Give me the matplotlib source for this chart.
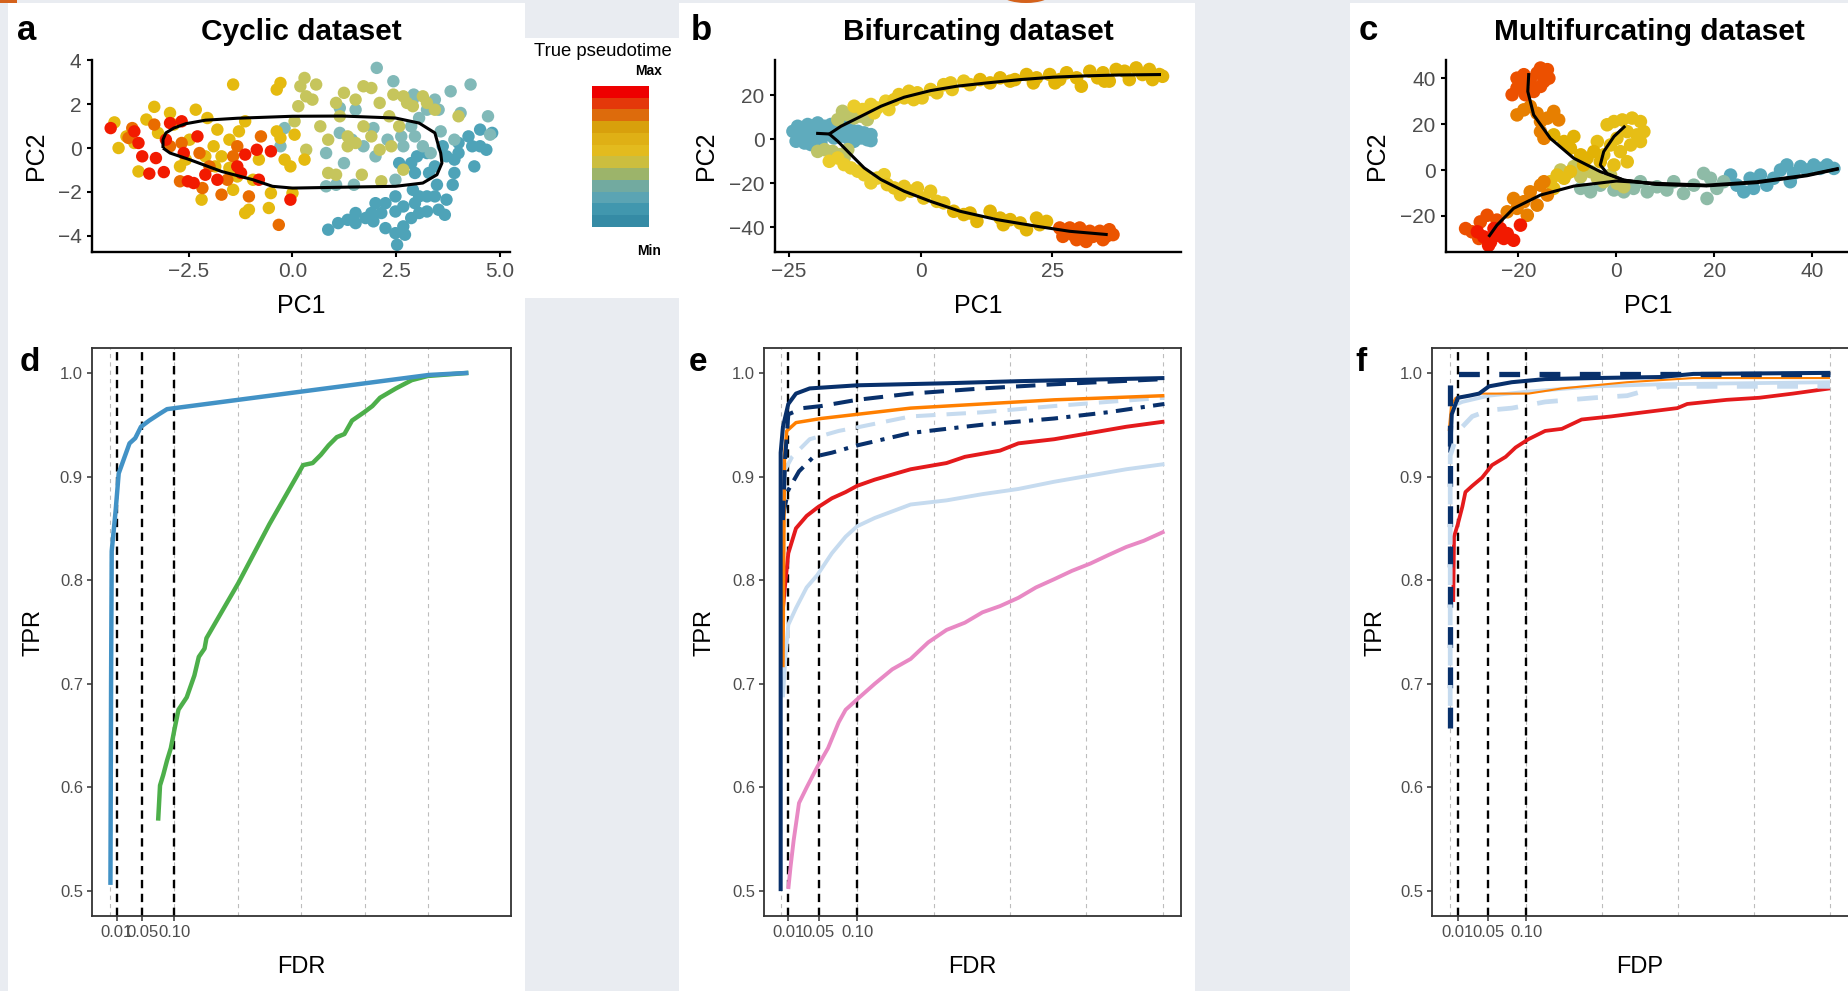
import numpy as np
import matplotlib
matplotlib.use('Agg')
import matplotlib.pyplot as plt
from matplotlib.colors import LinearSegmentedColormap, ListedColormap
from matplotlib.patches import Rectangle, Ellipse

plt.rcParams['font.family'] = ['Liberation Sans', 'DejaVu Sans']
plt.rcParams['lines.scale_dashes'] = False
W, H = 1849, 991

# ============================ DATA ============================
# pseudotime colour palette (points) and legend bands
ZISSOU = ["#3B9AB2", "#78B7C5", "#EBCC2A", "#E1AF00", "#F21A00"]
LEGEND_BANDS = ['#358BA5', '#4197AE', '#5BA4B3', '#72AAA0', '#9CB46A', '#CCBE3E',
                '#E3BB1E', '#DFB015', '#D8A00C', '#DD6B0C', '#E4380A', '#EE0000']

# ---- panel a: cyclic dataset (PC1, PC2) by pseudotime colour class ----
A_BLUE = [(3.0,-0.38),(3.24,-0.23),(3.43,-0.84),(3.62,0.08),(3.71,-0.38),(3.90,-0.53),(4.0,0.23),
          (3.90,-1.14),(3.86,-1.68),(3.71,-2.36),(3.67,-3.05),(3.43,-2.21),(3.24,-2.21),(3.05,-2.21),
          (2.90,-1.91),(2.95,-2.52),(3.05,-2.97),(2.86,-3.20),(2.67,-2.67),(2.48,-2.90),(2.24,-2.52),
          (2.14,-2.97),(1.90,-2.97),(1.76,-3.20),(1.52,-2.97),(1.33,-3.28),(1.10,-3.43),(0.86,-3.73),
          (1.52,-3.43),(1.95,-3.35),(2.24,-3.66),(2.48,-3.89),(2.52,-4.42),(2.71,-3.96),(2.67,-3.58),
          (3.24,-2.90),(3.52,-2.82),(4.24,0.53),(4.33,0.08),(4.52,0.08),(4.67,-0.08),(4.52,0.84),
          (4.38,-0.84),(4.0,-0.23),(3.48,-1.68),(3.29,-1.14),(2.95,-1.14),(2.86,-0.69),(2.57,-0.69),
          (2.0,-2.52),(2.48,-2.21),(4.81,0.69)]
A_TEAL = [(2.03,3.66),(2.43,3.05),(2.92,2.44),(2.90,2.21),(3.24,1.75),(3.43,2.21),(3.52,1.75),
          (3.05,1.37),(2.86,0.99),(2.62,0.53),(2.29,0.38),(2.0,-0.38),(1.71,0.08),(1.43,0.38),
          (1.14,0.69),(1.52,1.75),(1.14,1.83),(0.81,-0.23),(1.24,-0.69),(1.95,0.91),(3.14,0.08),
          (3.33,-0.23),(2.67,0.08),(2.95,0.53),(3.57,0.76),(3.90,0.38),(4.05,1.60),(4.29,2.90),
          (4.71,1.45),(4.76,0.61),(3.81,2.59),(-0.19,0.91),(-0.29,0.08),(0.81,-1.75),(1.05,-1.68),
          (1.48,-1.68),(2.48,-1.45)]
A_OLIVE = [(0.29,3.20),(0.19,2.82),(0.33,2.36),(0.57,2.90),(0.48,2.21),(0.14,1.91),(0.67,0.99),
           (0.86,0.38),(1.05,2.06),(1.24,2.52),(1.14,1.45),(1.33,0.53),(1.52,2.21),(1.71,2.82),
           (1.90,2.74),(2.10,2.06),(2.33,1.45),(2.43,2.44),(2.67,2.36),(2.76,2.06),(1.90,0.53),
           (2.10,-0.08),(2.38,0.08),(2.57,0.99),(2.90,1.91),(3.14,2.36),(3.24,2.06),(3.43,1.75),
           (4.0,1.45),(1.52,0.23),(0.86,-1.14),(1.05,-1.22),(1.67,-1.22),(2.14,-1.52),(2.67,-0.99),
           (0.05,1.22),(0.33,-0.08),(1.33,0.08),(1.71,0.99)]
A_YELLOW = [(-4.29,1.17),(-4.19,0.0),(-3.71,-1.07),(-3.33,1.88),(-4.0,0.53),(-3.52,1.30),(-3.24,0.69),
            (-2.86,1.07),(-2.48,0.38),(-2.33,1.75),(-2.19,-2.36),(-2.05,1.37),(-1.90,0.08),(-1.81,0.84),
            (-1.52,0.38),(-1.43,2.90),(-1.43,-1.91),(-1.29,0.76),(-1.14,-2.97),(-1.05,-2.82),(-0.95,-1.45),
            (-0.81,-0.53),(-0.57,-2.74),(-0.52,-2.06),(-0.38,2.67),(-0.29,2.97),(-0.38,0.76),(-0.19,-0.53),
            (-0.05,-0.84),(0.0,-2.06),(-0.29,0.46),(0.05,0.61),(0.29,-0.53),(-1.14,1.22),(-1.71,-0.38),
            (-2.57,-0.53),(-2.10,-0.38),(-1.86,-0.84),(-1.52,-0.91),(-2.95,1.60),(-3.81,0.23),(-2.71,-0.84),
            (-1.33,-1.30)]
A_ORANGE = [(-3.86,0.91),(-3.95,0.46),(-3.33,1.07),(-2.95,0.08),(-2.71,-1.52),(-2.67,0.23),(-2.24,-0.23),
            (-2.17,-1.83),(-1.71,-2.13),(-1.43,-0.38),(-1.05,-2.21),(-0.76,0.53),(-2.0,-0.84),(-1.33,0.08),
            (-1.57,-1.45),(-0.33,-3.51)]
A_RED = [(-4.38,0.91),(-3.81,0.76),(-3.71,0.23),(-3.62,-0.38),(-3.45,-1.17),(-3.10,-1.10),(-3.29,-0.46),
         (-3.05,0.38),(-2.95,1.14),(-2.67,1.22),(-2.62,-0.23),(-2.52,-1.52),(-2.29,0.53),(-1.81,-1.45),
         (-1.33,-0.84),(-1.14,-0.30),(-0.86,-0.08),(-1.24,-1.14),(-0.81,-1.45),(-0.52,-0.15),(-0.05,-2.36),
         (-2.38,-1.60),(-2.10,-1.22)]
A_GROUP_TIME = [0.08, 0.27, 0.42, 0.66, 0.86, 1.0]
A_LOOP = [(-3.12,0.0),(-3.12,0.38),(-3.05,0.69),(-2.86,0.91),(-2.57,1.11),(-2.1,1.27),(-1.33,1.36),
          (0.0,1.45),(1.2,1.46),(2.48,1.37),(3.05,1.14),(3.43,0.69),(3.52,0.08),(3.57,-0.23),
          (3.6,-0.69),(3.48,-1.22),(3.14,-1.60),(2.48,-1.75),(1.52,-1.78),(0.0,-1.83),(-0.48,-1.75),
          (-0.95,-1.45),(-1.71,-1.07),(-2.48,-0.53),(-2.95,-0.23),(-3.12,0.0)]
A_XTICKS = [-2.5, 0.0, 2.5, 5.0]
A_YTICKS = [-4, -2, 0, 2, 4]

# ---- panel b: bifurcating dataset ----
B_BLUE = [(-24.2,3.6),(-23.3,5.9),(-22.3,4.4),(-21.4,6.7),(-20.4,5.2),(-19.5,7.4),(-18.2,5.9),(-17.0,6.7),
          (-15.7,4.4),(-14.5,5.9),(-13.2,4.4),(-11.9,3.6),(-10.7,2.9),(-9.4,2.1),(-10.1,-0.2),(-11.3,0.6),
          (-12.6,-0.9),(-13.8,0.6),(-15.1,1.4),(-16.4,0.6),(-17.6,2.1),(-18.9,1.4),(-20.1,2.1),(-21.4,0.6),
          (-22.6,1.4),(-23.6,-0.9),(-22.0,-1.7),(-20.8,-2.4),(-18.9,-1.7),(-17.3,3.6),(-15.1,3.6),
          (-12.9,2.1),(-11.6,1.4),(-9.4,-0.6)]
B_OLIVE = [(-14.8,12.7),(-13.8,11.2),(-12.6,9.7),(-11.3,10.5),(-10.1,8.9),(-15.7,8.9),(-19.5,-5.5),
           (-18.2,-4.7),(-16.7,-5.5),(-15.4,-7.0),(-13.8,-4.7),(-14.5,-8.5)]
B_EARLY = [(-12.6,15.0),(-11.0,13.5),(-9.4,15.8),(-8.2,14.2),(-6.6,17.3),(-8.8,12.0),(-6.0,13.5),
           (-17.3,-10.0),(-15.7,-8.5),(-14.5,-11.5),(-13.2,-13.0),(-11.9,-14.5),(-10.7,-16.1),
           (-9.4,-19.8),(-8.2,-17.6),(-6.9,-16.1)]
B_MID = [(-5.0,18.0),(-4.1,20.3),(-3.1,18.8),(-2.2,21.8),(-0.6,21.1),(0.3,18.8),(1.9,22.6),(3.1,21.1),
         (4.4,24.8),(6.0,22.6),(8.2,26.4),(9.4,24.8),(-1.3,18.0),(5.7,25.6),
         (-6.3,-20.6),(-5.0,-22.1),(-3.8,-25.2),(-3.1,-21.4),(-1.9,-23.6),(-0.6,-22.1),(0.6,-26.7),
         (1.9,-23.6),(3.1,-28.2),(4.4,-28.9)]
B_LATE = [(11.3,27.1),(13.2,25.6),(15.1,27.9),(17.0,26.4),(20.1,29.4),(21.4,25.6),(22.0,27.9),(24.5,29.4),
          (26.4,27.1),(27.7,30.2),(29.6,27.9),(30.5,24.1),(32.1,30.9),(33.6,27.9),(34.6,30.2),(35.8,26.4),
          (37.1,31.7),(38.7,30.9),(39.6,27.1),(40.9,32.4),(42.1,29.4),(43.4,31.7),(44.0,27.1),(45.3,29.4),
          (45.9,28.6),(17.9,27.1),(25.5,25.6),(34.9,26.4),
          (6.3,-32.7),(8.2,-34.2),(9.4,-33.5),(10.7,-37.3),(13.2,-32.7),(15.1,-35.8),(15.7,-38.8),
          (17.0,-36.5),(18.9,-38.0),(20.1,-41.1),(22.0,-35.8),(22.6,-38.8),(23.9,-37.3)]
B_END = [(26.4,-40.3),(27.7,-41.8),(28.9,-43.3),(30.2,-40.3),(31.4,-46.4),(32.7,-44.1),(34.0,-41.8),
         (34.6,-45.6),(35.8,-41.1),(36.5,-43.3),(27.0,-44.1),(30.8,-42.6),(28.3,-40.3),(32.1,-41.8),
         (35.2,-44.1),(29.6,-45.6)]
B_GROUP_TIME = [0.15, 0.40, 0.50, 0.57, 0.70, 0.90]
B_STUB = [(-19.8,2.7),(-17.3,2.4)]
B_UPPER = [(-17.3,2.4),(-15.1,5.9),(-11.9,9.7),(-7.5,15.0),(-3.1,19.1),(1.9,22.1),(6.9,24.1),
           (12.6,25.6),(18.9,27.1),(25.2,28.2),(31.4,28.8),(37.7,29.2),(45.6,29.4)]
B_LOWER = [(-17.3,2.4),(-15.7,-0.9),(-13.2,-7.0),(-10.7,-13.0),(-7.5,-18.3),(-3.1,-23.6),(1.9,-28.2),
           (7.5,-32.7),(14.5,-36.5),(22.0,-39.5),(28.3,-41.8),(35.5,-43.3)]
B_XTICKS = [-25, 0, 25]
B_YTICKS = [-40, -20, 0, 20]

# ---- panel c: multifurcating dataset ----
C_BLUE = [(23.3,-2.2),(24.6,-6.6),(26.0,-9.5),(27.3,-3.6),(29.4,-2.2),(30.7,-6.6),(32.1,-3.6),(33.5,0.0),
          (34.8,2.2),(36.2,-1.5),(37.6,1.5),(38.9,0.0),(40.3,2.2),(41.6,0.7),(43.0,2.2),(44.4,0.7),
          (35.5,-5.1),(28.0,-8.0)]
C_TEAL = [(-7.3,-8.0),(-5.3,-9.5),(-3.3,-6.6),(-0.5,-8.7),(1.5,-9.5),(3.5,-8.0),(4.9,-5.1),(6.3,-9.5),
          (8.3,-7.3),(10.3,-8.7),(11.7,-5.1),(13.7,-10.2),(15.8,-6.6),(17.8,-1.5),(19.2,-3.6),(18.5,-12.4),
          (20.5,-8.0),(21.9,-5.1)]
C_OLIVE = [(-11.4,0.0),(-10.1,-1.5),(-8.7,1.5),(-7.3,-2.9),(-5.3,-0.7),(-3.9,-3.6),(-2.6,-5.1),
           (-1.2,-2.2),(0.1,-5.8),(1.5,-7.3)]
C_YELLOW = [(-1.9,19.7),(-0.5,21.1),(1.2,21.8),(3.2,22.6),(4.9,21.1),(5.6,16.7),(4.2,15.3),(2.2,16.7),
            (0.1,13.8),(-1.2,10.9),(-3.9,12.4),(-2.6,6.6),(0.8,8.0),(-0.5,2.2),(2.2,3.6),(4.9,12.4),
            (2.9,10.9),(-13.5,-5.1),(-12.1,-2.2),(-12.8,-8.0),(-10.7,-3.6),(-9.4,-0.7)]
C_GOLD = [(-12.8,15.3),(-10.7,12.4),(-8.7,14.6),(-9.4,9.5),(-7.3,6.6),(-6.0,5.1),(-6.7,2.2),(-4.6,8.0),
          (-3.3,3.6)]
C_ORANGE = [(-22.3,-18.2),(-20.3,-16.7),(-21.0,-12.4),(-18.9,-13.8),(-17.6,-9.5),(-16.2,-15.3),
            (-18.2,-19.7),(-15.5,-6.6),(-14.1,-10.9),(-14.8,-5.1),
            (-20.3,24.0),(-18.9,26.2),(-17.6,27.7),(-16.2,24.7),(-15.5,21.1),(-14.1,22.6),(-12.8,25.5),
            (-11.8,21.8),(-15.5,16.7),(-14.8,13.8)]
C_REDORANGE = [(-30.8,-25.5),(-29.5,-26.9),(-27.8,-22.6),(-26.4,-19.7),(-24.4,-21.8),(-28.1,-29.8),
               (-20.3,40.0),(-18.9,41.5),(-17.6,39.3),(-16.2,42.2),(-15.5,44.4),(-14.1,43.7),(-13.8,40.0),
               (-15.5,36.4),(-16.9,34.2),(-18.6,32.8),(-20.3,35.7),(-21.3,32.8),(-19.3,37.1),(-14.8,38.6)]
C_RED = [(-28.4,-26.9),(-27.1,-29.1),(-25.7,-31.3),(-24.4,-28.4),(-23.0,-29.8),(-23.7,-25.5),(-22.3,-27.7),
         (-21.0,-30.6),(-19.6,-24.0),(-25.0,-25.5),(-26.1,-32.8)]
C_GROUP_TIME = [0.12, 0.30, 0.42, 0.62, 0.72, 0.83, 0.91, 1.0]
C_LINE1 = [(-26.1,-29.1),(-24.4,-24.0),(-21.0,-16.7),(-15.5,-10.9),(-8.7,-7.0),(0.0,-4.8),(8.3,-5.8),
           (18.5,-6.6),(28.7,-5.1),(38.9,-2.2),(45.4,0.7)]
C_LINE2 = [(-17.9,42.2),(-18.1,34.2),(-16.9,24.0),(-13.5,13.8),(-8.7,5.1),(-3.3,-0.7),(1.5,-4.4),
           (8.3,-6.3),(18.5,-6.9),(28.7,-5.5),(38.9,-2.5),(45.4,0.5)]
C_LINE3 = [(1.8,19.2),(-0.5,14.6),(-2.6,8.0),(-3.3,2.2),(-1.9,-1.5),(1.5,-4.4),(8.3,-6.2),(18.5,-6.8)]
C_XTICKS = [-20, 0, 20, 40]
C_YTICKS = [-20, 0, 20, 40]

# ---- bottom panels: (FDR, TPR) curves ----
FDR_THRESHOLDS = [0.01, 0.05, 0.10]
GRID_X = [0.0, 0.1, 0.2, 0.3, 0.4, 0.5]
TPR_TICKS = [0.5, 0.6, 0.7, 0.8, 0.9, 1.0]

D_BLUE = [(0.0,0.506),(0.001,0.70),(0.002,0.828),(0.008,0.866),(0.013,0.903),(0.020,0.915),(0.030,0.932),
          (0.039,0.937),(0.048,0.948),(0.061,0.954),(0.076,0.960),(0.089,0.965),(0.101,0.966),
          (0.501,0.998),(0.563,1.0)]
D_GREEN = [(0.075,0.568),(0.078,0.602),(0.083,0.612),(0.089,0.626),(0.095,0.638),(0.101,0.657),
           (0.107,0.675),(0.120,0.687),(0.132,0.708),(0.139,0.726),(0.148,0.734),(0.151,0.744),
           (0.201,0.797),(0.250,0.854),(0.303,0.911),(0.318,0.913),(0.331,0.921),(0.343,0.930),
           (0.356,0.938),(0.368,0.941),(0.380,0.954),(0.399,0.962),(0.412,0.968),(0.424,0.976),
           (0.449,0.985),(0.474,0.993),(0.499,0.997),(0.563,1.0)]

E_NAVY_SOLID = [(0.0,0.50),(0.0,0.923),(0.003,0.948),(0.010,0.970),(0.020,0.980),(0.038,0.985),
                (0.1,0.988),(0.217,0.990),(0.311,0.992),(0.502,0.995)]
E_NAVY_DASH = [(0.003,0.858),(0.006,0.919),(0.010,0.960),(0.029,0.966),(0.053,0.968),(0.1,0.974),
               (0.170,0.980),(0.264,0.985),(0.358,0.989),(0.502,0.994)]
E_ORANGE = [(0.003,0.716),(0.005,0.919),(0.008,0.944),(0.020,0.952),(0.053,0.956),(0.1,0.960),
            (0.170,0.966),(0.264,0.970),(0.358,0.974),(0.502,0.978)]
E_LIGHT_DASH = [(0.003,0.903),(0.015,0.919),(0.038,0.936),(0.076,0.944),(0.104,0.948),(0.170,0.958),
                (0.264,0.962),(0.358,0.968),(0.428,0.972),(0.502,0.976)]
E_NAVY_DASHDOT = [(0.003,0.862),(0.010,0.887),(0.024,0.905),(0.043,0.919),(0.067,0.923),(0.1,0.930),
                  (0.170,0.942),(0.264,0.950),(0.358,0.956),(0.428,0.962),(0.502,0.970)]
E_RED = [(0.003,0.773),(0.006,0.797),(0.010,0.826),(0.020,0.850),(0.034,0.862),(0.048,0.870),
         (0.067,0.879),(0.085,0.885),(0.1,0.891),(0.123,0.897),(0.170,0.907),(0.217,0.913),
         (0.241,0.919),(0.287,0.925),(0.311,0.932),(0.358,0.936),(0.405,0.942),(0.452,0.948),(0.502,0.953)]
E_LIGHT = [(0.003,0.687),(0.006,0.724),(0.010,0.757),(0.020,0.773),(0.034,0.793),(0.048,0.805),
           (0.067,0.826),(0.085,0.842),(0.1,0.852),(0.123,0.860),(0.170,0.873),(0.217,0.877),
           (0.264,0.883),(0.311,0.888),(0.358,0.895),(0.405,0.901),(0.452,0.907),(0.502,0.912)]
E_PINK = [(0.010,0.502),(0.013,0.524),(0.017,0.549),(0.024,0.585),(0.034,0.600),(0.048,0.620),
          (0.062,0.638),(0.076,0.663),(0.085,0.675),(0.1,0.685),(0.123,0.700),(0.146,0.714),
          (0.170,0.724),(0.193,0.740),(0.217,0.752),(0.241,0.759),(0.264,0.769),(0.287,0.775),
          (0.311,0.783),(0.334,0.793),(0.358,0.801),(0.381,0.809),(0.405,0.816),(0.428,0.824),
          (0.452,0.832),(0.475,0.838),(0.502,0.847)]

F_NAVY_DASH = [(0.0,0.657),(0.0,0.999),(0.5,0.999)]
F_NAVY_SOLID = [(0.0,0.923),(0.002,0.960),(0.010,0.976),(0.025,0.978),(0.038,0.980),(0.051,0.987),
                (0.081,0.991),(0.125,0.994),(0.19,0.995),(0.277,0.996),(0.320,0.999),(0.5,1.0)]
F_ORANGE = [(-0.002,0.944),(0.001,0.968),(0.007,0.976),(0.038,0.980),(0.103,0.980),(0.147,0.985),
            (0.233,0.991),(0.320,0.995),(0.5,0.995)]
F_LIGHT = [(0.003,0.968),(0.016,0.972),(0.051,0.978),(0.103,0.982),(0.19,0.987),(0.277,0.989),(0.5,0.991)]
F_LIGHT_DASH = [(0.0,0.66),(0.0,0.92),(0.007,0.936),(0.016,0.948),(0.029,0.958),(0.051,0.964),
                (0.081,0.966),(0.125,0.972),(0.19,0.976),(0.233,0.978),(0.277,0.987),(0.364,0.987),(0.5,0.987)]
F_RED = [(0.004,0.779),(0.005,0.842),(0.010,0.854),(0.016,0.871),(0.020,0.885),(0.029,0.891),(0.042,0.899),
         (0.055,0.911),(0.073,0.919),(0.086,0.928),(0.103,0.936),(0.125,0.944),(0.147,0.946),(0.173,0.955),
         (0.212,0.958),(0.255,0.962),(0.299,0.966),(0.312,0.970),(0.364,0.974),(0.407,0.976),(0.451,0.980),
         (0.5,0.985)]

NAVY, LIGHTBLUE, ORANGE, RED, PINK = '#08306B', '#C6DBEF', '#FF7F00', '#E41A1C', '#E889C4'
D_BLUE_COL, D_GREEN_COL = '#4292C6', '#4DAF4A'

# ============================ DRAWING ============================
fig = plt.figure(figsize=(W / 100, H / 100), dpi=100)
fig.patch.set_facecolor('#E9ECF1')


def frac_rect(x0, y0, x1, y1):
    return [x0 / W, 1 - y1 / H, (x1 - x0) / W, (y1 - y0) / H]


def fx(x):
    return x / W


def fy(y):
    return 1 - y / H


for (x0, y0, x1, y1) in [(8, 3, 525, 991), (525, 38, 679, 298), (679, 3, 1195, 991), (1350, 3, 1849, 991)]:
    fig.patches.append(Rectangle((fx(x0), fy(y1)), (x1 - x0) / W, (y1 - y0) / H,
                                 transform=fig.transFigure, facecolor='white', edgecolor='none', zorder=-5))
# small orange artefacts at the top edge
fig.patches.append(Rectangle((0, fy(3)), 17 / W, 3 / H, transform=fig.transFigure,
                             facecolor='#D4621C', edgecolor='none', zorder=-4))
fig.patches.append(Ellipse((fx(1026), fy(-6)), 50 / W, 18 / H, transform=fig.transFigure,
                           facecolor='#D4621C', edgecolor='none', zorder=-4))

cmap_pts = LinearSegmentedColormap.from_list('zissou', ZISSOU)


def unzip(pts):
    a = np.array(pts, dtype=float)
    return a[:, 0], a[:, 1]


def fmt_tick(v, dec):
    s = f'{v:.{dec}f}'
    return s.replace('-', '\u2212')


def scatter_panel(rect, groups, times, lines, xlim, ylim, xt, yt, dec, size):
    ax = fig.add_axes(frac_rect(*rect))
    ax.patch.set_alpha(0)
    for pts, t in zip(groups, times):
        x, y = unzip(pts)
        ax.scatter(x, y, s=size, c=[cmap_pts(t)] * len(x), edgecolors='none', zorder=2)
    for ln in lines:
        x, y = unzip(ln)
        ax.plot(x, y, color='black', lw=2.2, zorder=3, solid_capstyle='butt')
    ax.set_xlim(*xlim)
    ax.set_ylim(*ylim)
    for s in ['top', 'right']:
        ax.spines[s].set_visible(False)
    for s in ['left', 'bottom']:
        ax.spines[s].set_linewidth(1.7)
        ax.spines[s].set_color('black')
    ax.set_xticks(xt)
    ax.set_xticklabels([fmt_tick(v, dec) for v in xt])
    ax.set_yticks(yt)
    ax.set_yticklabels([fmt_tick(v, 0) for v in yt])
    ax.tick_params(length=3.5, width=1.5, color='black', labelsize=15, labelcolor='#4D4D4D', pad=4)
    return ax


scatter_panel((92, 60, 510, 252), [A_BLUE, A_TEAL, A_OLIVE, A_YELLOW, A_ORANGE, A_RED], A_GROUP_TIME,
              [A_LOOP], (-4.83, 5.24), (-4.75, 4.02), A_XTICKS, A_YTICKS, 1, 80)
scatter_panel((775, 60, 1181, 252), [B_BLUE, B_OLIVE, B_EARLY, B_MID, B_LATE, B_END], B_GROUP_TIME,
              [B_STUB, B_UPPER, B_LOWER], (-27.6, 49.4), (-51.2, 36.0), B_XTICKS, B_YTICKS, 0, 95)
scatter_panel((1446, 60, 1852, 252), [C_BLUE, C_TEAL, C_OLIVE, C_YELLOW, C_GOLD, C_ORANGE, C_REDORANGE, C_RED],
              C_GROUP_TIME, [C_LINE1, C_LINE2, C_LINE3], (-34.8, 48.1), (-35.7, 47.9), C_XTICKS, C_YTICKS, 0, 95)

# top texts
for (x, txt) in [(27, 'a'), (701, 'b'), (1368, 'c')]:
    fig.text(fx(x), fy(40), txt, ha='center', va='baseline', fontsize=25, fontweight='bold')
for (x, txt) in [(301, 'Cyclic dataset'), (978, 'Bifurcating dataset'), (1649, 'Multifurcating dataset')]:
    fig.text(fx(x), fy(40), txt, ha='center', va='baseline', fontsize=21.5, fontweight='bold')
for x in [301, 978, 1648]:
    fig.text(fx(x), fy(313), 'PC1', ha='center', va='baseline', fontsize=18)
for x in [36, 706, 1377]:
    fig.text(fx(x), fy(156), 'PC2', ha='center', va='center', rotation=90, fontsize=18)

# legend
fig.text(fx(603), fy(56), 'True pseudotime', ha='center', va='baseline', fontsize=13.3)
fig.text(fx(649), fy(75), 'Max', ha='center', va='baseline', fontsize=10, fontweight='bold')
fig.text(fx(649), fy(255), 'Min', ha='center', va='baseline', fontsize=10, fontweight='bold')
lax = fig.add_axes(frac_rect(592, 86, 649, 227))
lax.imshow(np.arange(len(LEGEND_BANDS))[::-1].reshape(-1, 1), cmap=ListedColormap(LEGEND_BANDS),
           aspect='auto', interpolation='nearest')
lax.axis('off')


# bottom ROC-like panels
def roc_panel(rect, xlim, curves):
    ax = fig.add_axes(frac_rect(*rect))
    ax.patch.set_alpha(0)
    ax.set_xlim(*xlim)
    ax.set_ylim(0.476, 1.024)
    for g in GRID_X:
        ax.axvline(g, color='#BDBDBD', lw=0.8, linestyle=(0, (3, 3)), zorder=1)
    for t in FDR_THRESHOLDS:
        ax.axvline(t, color='black', lw=1.7, linestyle=(0, (6, 4)), zorder=2)
    for pts, col, lw, ls in curves:
        x, y = unzip(pts)
        ax.plot(x, y, color=col, lw=lw, linestyle=ls, zorder=3, solid_capstyle='butt', dash_capstyle='butt')
    for s in ax.spines.values():
        s.set_color('#333333')
        s.set_linewidth(1.3)
    ax.set_xticks(FDR_THRESHOLDS)
    ax.set_xticklabels(['0.01', '0.05', '0.10'])
    ax.set_yticks(TPR_TICKS)
    ax.set_yticklabels([f'{v:.1f}' for v in TPR_TICKS])
    ax.tick_params(length=3.5, width=1.1, color='#333333', labelsize=12, labelcolor='#4D4D4D', pad=3)
    return ax


roc_panel((92, 348, 511, 916), (-0.029, 0.63), [
    (D_GREEN, D_GREEN_COL, 3.2, '-'),
    (D_BLUE, D_BLUE_COL, 3.2, '-'),
])
roc_panel((764, 348, 1181, 916), (-0.0218, 0.5237), [
    (E_PINK, PINK, 2.8, '-'),
    (E_LIGHT, LIGHTBLUE, 2.8, '-'),
    (E_RED, RED, 2.8, '-'),
    (E_NAVY_DASHDOT, NAVY, 2.9, (0, (12, 6, 3, 6))),
    (E_LIGHT_DASH, LIGHTBLUE, 2.9, (0, (14, 8))),
    (E_ORANGE, ORANGE, 2.5, '-'),
    (E_NAVY_DASH, NAVY, 2.9, (0, (14, 8))),
    (E_NAVY_SOLID, NAVY, 2.9, '-'),
])
roc_panel((1432, 348, 1852, 916), (-0.024, 0.529), [
    (F_RED, RED, 2.7, '-'),
    (F_LIGHT, LIGHTBLUE, 2.7, '-'),
    (F_ORANGE, ORANGE, 1.5, '-'),
    (F_NAVY_SOLID, NAVY, 2.9, '-'),
    (F_NAVY_DASH, NAVY, 3.8, (0, (15, 14))),
    (F_LIGHT_DASH, LIGHTBLUE, 3.4, (15, (15, 14))),
])

for (x, txt) in [(30, 'd'), (698, 'e'), (1361, 'f')]:
    fig.text(fx(x), fy(371), txt, ha='center', va='baseline', fontsize=24, fontweight='bold')
for x in [34, 705, 1376]:
    fig.text(fx(x), fy(632), 'TPR', ha='center', va='center', rotation=90, fontsize=17)
for (x, txt) in [(301, 'FDR'), (972, 'FDR'), (1640, 'FDP')]:
    fig.text(fx(x), fy(973), txt, ha='center', va='baseline', fontsize=17)

fig.savefig('out.png', dpi=100)
